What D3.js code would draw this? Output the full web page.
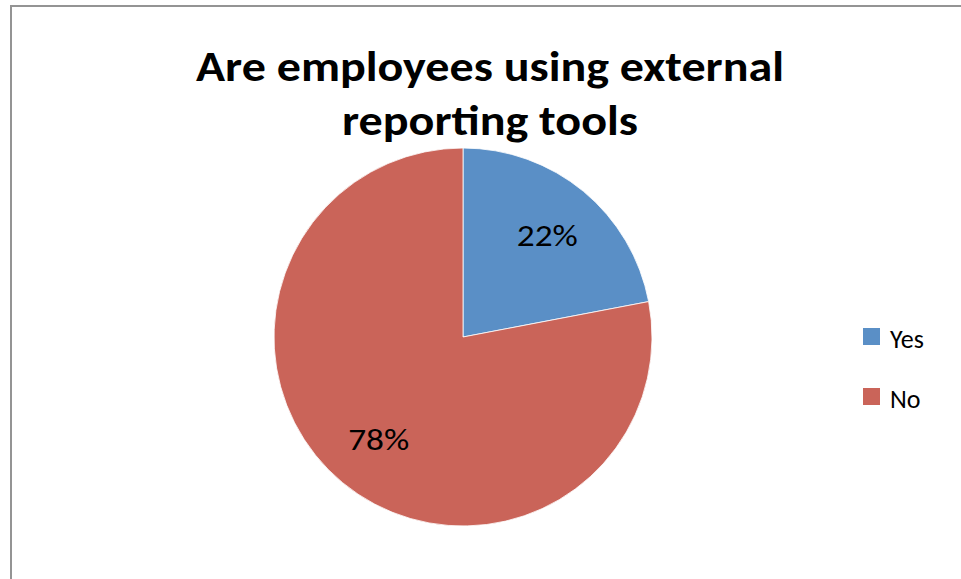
<!DOCTYPE html>
<html>
<head>
<meta charset="utf-8">
<script src="https://cdn.jsdelivr.net/npm/d3@7/dist/d3.min.js"></script>
<style>
  html, body { margin: 0; padding: 0; background: #fff; }
  svg { display: block; }
</style>
</head>
<body>
<svg id="chart" width="961" height="579"></svg>
<script>
// Survey answers
const categories = ["Yes", "No"];
const shares = [22, 78];
const colors = ["#5A8FC6", "#CA6459"];
const titleLines = ["Are employees using external", "reporting tools"];

const svg = d3.select("#chart");
const fontFamily = "Carlito, Calibri, Lato, 'Open Sans', sans-serif";

// Chart frame (extends past the right and bottom edge)
svg.append("rect")
  .attr("x", 11).attr("y", 6)
  .attr("width", 1000).attr("height", 700)
  .attr("fill", "#fff")
  .attr("stroke", "#949494")
  .attr("stroke-width", 2);

// Title
const titleWidths = [588, 296];
svg.append("g").selectAll("text")
  .data(titleLines)
  .join("text")
  .attr("x", 490)
  .attr("y", (d, i) => 81 + i * 54)
  .attr("text-anchor", "middle")
  .attr("font-family", fontFamily)
  .attr("font-weight", "bold")
  .attr("font-size", 42)
  .attr("fill", "#000")
  .attr("textLength", (d, i) => titleWidths[i])
  .attr("lengthAdjust", "spacingAndGlyphs")
  .text(d => d);

// Pie
const cx = 463, cy = 337, radius = 189;
const pie = d3.pie().sort(null).value(d => d.value);
const data = categories.map((c, i) => ({ name: c, value: shares[i] }));
const arcs = pie(data);
const arc = d3.arc().innerRadius(0).outerRadius(radius);
const labelArc = d3.arc().innerRadius(radius * 0.7).outerRadius(radius * 0.7);

const g = svg.append("g").attr("transform", `translate(${cx},${cy})`);
g.selectAll("path")
  .data(arcs)
  .join("path")
  .attr("d", arc)
  .attr("fill", (d, i) => colors[i])
  .attr("stroke", "#fff")
  .attr("stroke-width", 0.8);

g.selectAll("text")
  .data(arcs)
  .join("text")
  .attr("transform", d => `translate(${labelArc.centroid(d)})`)
  .attr("text-anchor", "middle")
  .attr("dy", "0.36em")
  .attr("font-family", fontFamily)
  .attr("font-size", 31)
  .attr("fill", "#000")
  .attr("textLength", 61)
  .attr("lengthAdjust", "spacingAndGlyphs")
  .text(d => d.data.value + "%");

// Legend
const legend = svg.append("g").attr("transform", "translate(863,328)");
const item = legend.selectAll("g")
  .data(categories)
  .join("g")
  .attr("transform", (d, i) => `translate(0,${i * 60})`);
item.append("rect")
  .attr("width", 17).attr("height", 17)
  .attr("fill", (d, i) => colors[i]);
item.append("text")
  .attr("x", 27).attr("y", 20)
  .attr("font-family", fontFamily)
  .attr("font-size", 26)
  .attr("fill", "#000")
  .text(d => d);
</script>
</body>
</html>
